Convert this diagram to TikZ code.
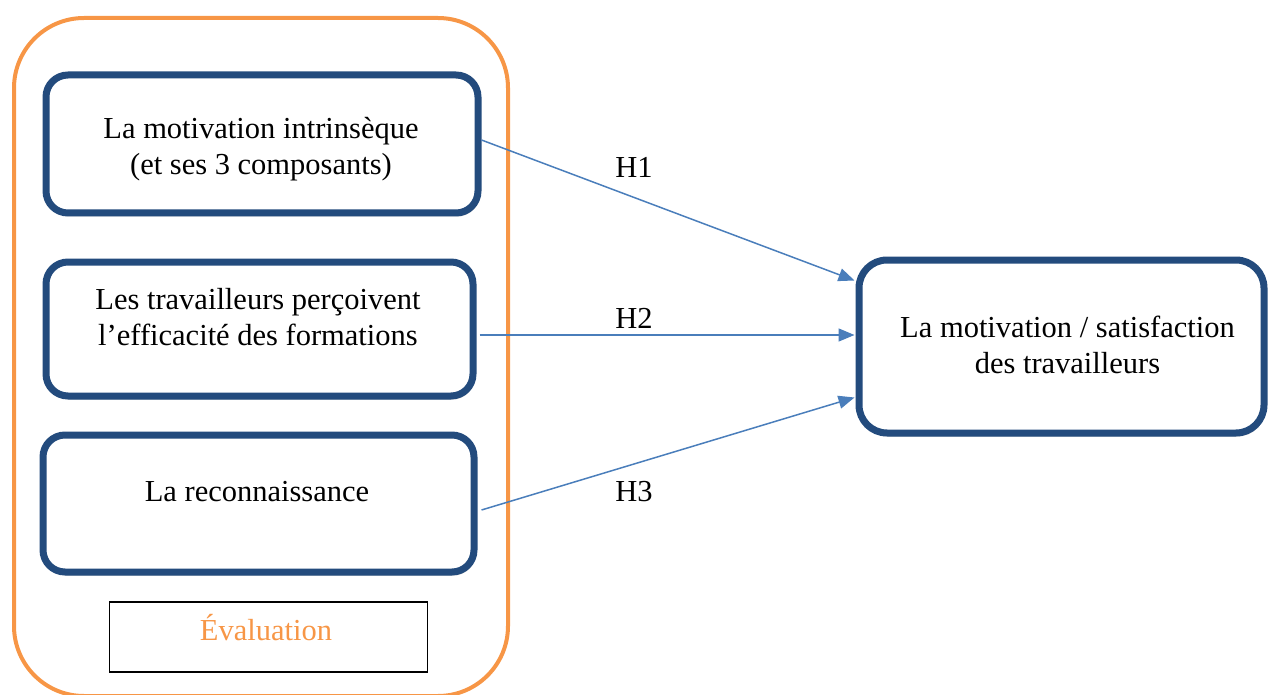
\documentclass[tikz,border=0pt]{standalone}
\usepackage{fontspec}
\setmainfont{Liberation Serif}
\usetikzlibrary{arrows.meta,calc,shadows}
\definecolor{boxblue}{RGB}{35,75,125}
\definecolor{evalorange}{RGB}{247,150,70}
\definecolor{arrowblue}{RGB}{74,126,187}
\tikzset{
  bluebox/.style={draw=boxblue, line width=7pt, rounded corners=22pt, fill=white, inner sep=0pt,
    drop shadow={shadow xshift=1.5pt, shadow yshift=-3.5pt, opacity=0.3, fill=black!70}},
  groupbox/.style={draw=evalorange, line width=4pt, rounded corners=70pt, inner sep=0pt},
  txt/.style={font=\fontsize{30.5}{36}\selectfont, align=center, anchor=base, inner sep=0pt},
  hyp/.style={draw=arrowblue, line width=1.5pt, -{Triangle[length=16pt,width=13pt]}},
}
\begin{document}
\begin{tikzpicture}[x=1pt,y=-1pt]
\useasboundingbox (0,0) rectangle (1269,695);
\node[groupbox, minimum width=494pt, minimum height=678pt] (grp) at (261,357) {};
\node[bluebox, minimum width=432pt, minimum height=138pt] (b1) at (262,144) {};
\node[bluebox, minimum width=427pt, minimum height=134pt] (b2) at (259.5,329) {};
\node[bluebox, minimum width=431pt, minimum height=137pt] (b3) at (258.5,503.5) {};
\node[bluebox, minimum width=405pt, minimum height=173pt, rounded corners=28pt] (r) at (1061.5,346.5) {};
\node[draw=black, line width=1.5pt, minimum width=318pt, minimum height=70pt, inner sep=0pt] (ev) at (268.5,637) {};
\node[txt] (t1) at (261,175) {La motivation intrinsèque\\(et ses 3 composants)};
\node[txt] (t2) at (258,345) {Les travailleurs perçoivent\\l’efficacité des formations};
\node[txt] (t3) at (257,501) {La reconnaissance};
\node[txt] (tr) at (1067.5,373) {La motivation / satisfaction\\des travailleurs};
\node[txt, text=evalorange] (tev) at (266,640) {Évaluation};
\draw[hyp] ($(b1.east)+(0,-4)$) -- ($(r.west)+(-1,-66)$);
\draw[hyp] ($(b2.east)+(3,6)$) -- ($(r.west)+(-1,-11.5)$);
\draw[hyp] ($(b3.east)+(4,6.5)$) -- ($(r.west)+(-1,51)$);
\node[txt] (h1) at (634,178) {H1};
\node[txt] (h2) at (634,328) {H2};
\node[txt] (h3) at (634,501) {H3};
\end{tikzpicture}
\end{document}
